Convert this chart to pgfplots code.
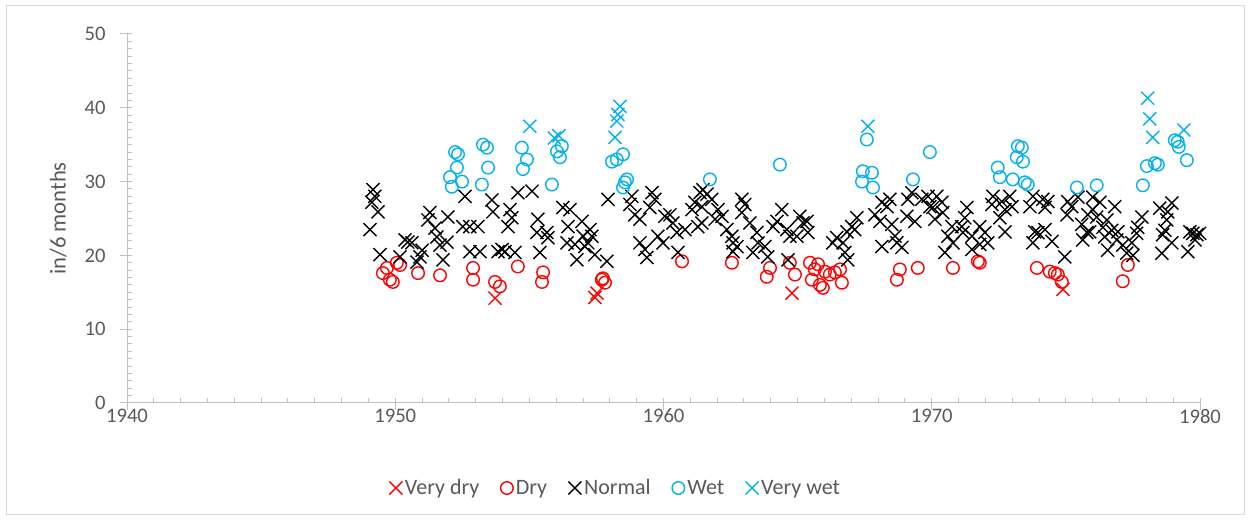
\documentclass[border=0pt]{standalone}
\usepackage{fontspec}
\setmainfont{Carlito}
\usepackage{pgfplots}
\pgfplotsset{compat=1.18}
\definecolor{axgray}{HTML}{BFBFBF}
\definecolor{framegray}{HTML}{D9D9D9}
\definecolor{txtgray}{HTML}{595959}
\definecolor{wetblue}{HTML}{00B0F0}
\definecolor{dryred}{HTML}{FF0000}
\begin{document}
\begin{tikzpicture}[x=0.75pt,y=0.75pt]
\useasboundingbox (0,0) rectangle (1250,521);
\draw[framegray, line width=0.75pt] (6,6) rectangle (1244,515);
\begin{axis}[
  at={(95.25pt,88.5pt)}, anchor=south west,
  width=804.75pt, height=276.75pt, scale only axis,
  xmin=1940, xmax=1980, ymin=0, ymax=50,
  xtick={1940,1950,...,1980}, ytick={0,10,...,50},
  minor x tick num=9, minor y tick num=9,
  axis lines=left, axis line style={axgray, -, line width=0.75pt},
  tick style={axgray, line width=0.75pt},
  tick align=inside,
  major tick length=3.75pt, minor tick length=3.75pt,
  extra x ticks={1940,1950,...,1980}, extra x tick labels={},
  extra x tick style={tick align=outside, major tick length=5.25pt},
  extra y ticks={0,10,...,50}, extra y tick labels={},
  extra y tick style={tick align=outside, major tick length=5.25pt},
  /pgf/number format/1000 sep={},
  /pgf/number format/assume math mode=true,
  tick label style={font=\fontsize{15.5}{18}\selectfont, text=txtgray},
  yticklabel style={xshift=-12.5pt},
  xticklabel style={yshift=-1pt},
  ylabel={in/6 months},
  ylabel style={font=\fontsize{17}{20}\selectfont, text=txtgray, at={(axis description cs:-0.064,0.5)}, anchor=center, rotate=0},
  legend style={at={(axis description cs:0.4557,-0.2304)}, anchor=center, draw=none, fill=none,
    font=\fontsize{16.5}{19}\selectfont, text=txtgray,
    /tikz/every even column/.append style={column sep=14pt}},
  legend columns=5,
  legend image code/.code={\draw[mark repeat=2,mark phase=2,#1] plot coordinates {(0pt,0pt)(5pt,0pt)(10pt,0pt)};},
]
% Very dry
\addplot[only marks, mark=x, mark size=6.9pt, dryred, line width=1.05pt] coordinates {
(1953.72,14.2) (1957.44,14.3) (1957.52,14.9) (1964.79,14.9) (1974.89,15.4)
};
\addlegendentry{Very dry}
% Dry
\addplot[only marks, mark=o, mark size=4.7pt, dryred, line width=1.05pt] coordinates {
(1949.54,17.6) (1949.69,18.3) (1949.80,16.7) (1949.91,16.4) (1950.06,19.0) (1950.18,18.7)
(1950.85,17.6) (1951.67,17.3) (1952.90,18.3) (1952.90,16.7) (1953.72,16.4) (1953.90,15.8)
(1954.57,18.5) (1955.51,17.7) (1955.47,16.4) (1957.70,16.7) (1957.74,16.9) (1957.82,16.3)
(1960.69,19.2) (1962.55,19.0) (1963.85,17.1) (1963.97,18.3) (1964.71,19.0) (1964.90,17.4)
(1965.46,19.0) (1965.53,16.7) (1965.64,18.1) (1965.76,18.8) (1965.83,16.0) (1965.94,15.6)
(1966.02,17.8) (1966.20,17.4) (1966.39,17.7) (1966.58,18.1) (1966.65,16.3) (1968.70,16.7)
(1968.81,18.1) (1969.48,18.3) (1970.79,18.3) (1971.72,19.2) (1971.79,19.0) (1973.92,18.3)
(1974.40,17.8) (1974.59,17.6) (1974.70,17.4) (1974.85,16.4) (1977.12,16.5) (1977.31,18.7)
};
\addlegendentry{Dry}
% Normal
\addplot[only marks, mark=x, mark size=6.9pt, black, line width=1.05pt] coordinates {
(1949.17,28.9) (1949.24,28.0) (1949.13,27.2) (1949.36,25.9) (1949.06,23.5) (1949.43,20.1)
(1950.36,22.1) (1950.47,21.8) (1950.62,21.7) (1950.18,19.8) (1951.29,25.8) (1951.22,24.8)
(1951.96,25.2) (1951.48,23.7) (1951.55,22.5) (1951.67,21.4) (1951.93,21.8) (1951.78,19.4)
(1950.92,19.8) (1951.00,20.7) (1950.81,19.1) (1952.60,28.0) (1953.60,27.5) (1953.64,25.9)
(1952.52,23.9) (1952.78,23.9) (1953.08,23.9) (1952.78,20.5) (1953.16,20.5) (1953.83,20.5)
(1954.28,26.2) (1954.35,25.1) (1954.20,23.9) (1954.57,28.5) (1955.10,28.7) (1953.98,20.8)
(1954.09,20.5) (1954.46,20.4) (1955.32,24.9) (1955.28,23.1) (1955.65,23.1) (1955.69,22.4)
(1955.39,20.4) (1956.25,26.5) (1956.51,26.2) (1956.44,23.9) (1956.96,24.6) (1956.40,21.7)
(1956.70,21.5) (1957.00,22.6) (1956.77,19.4) (1957.07,21.2)
(1957.93,27.6) (1958.82,28.0) (1958.75,26.9) (1958.93,25.5) (1959.12,24.9) (1959.57,28.5)
(1959.68,27.6) (1959.49,26.5) (1959.12,21.7) (1959.31,20.8) (1959.38,19.7) (1959.79,22.6)
(1960.05,25.3) (1960.24,25.5) (1959.98,21.7) (1960.35,24.4) (1960.50,23.1) (1960.54,20.4)
(1960.80,23.5) (1961.06,26.2) (1961.17,27.2) (1961.36,28.5) (1961.28,23.9) (1957.26,23.5)
(1957.33,22.6) (1957.18,21.7) (1957.44,20.1) (1957.89,19.2)
(1961.47,28.9) (1961.62,28.3) (1961.80,27.6) (1961.43,26.6) (1962.03,26.2) (1962.18,25.3)
(1961.92,24.9) (1961.43,24.4) (1962.92,27.6) (1963.03,26.9) (1962.92,25.8) (1962.36,23.5)
(1962.55,22.6) (1962.59,21.7) (1962.74,21.2) (1962.59,20.5) (1963.22,24.4) (1963.48,23.1)
(1963.52,21.7) (1963.33,20.4) (1963.78,21.2) (1963.89,19.8) (1964.41,26.2) (1964.23,24.6)
(1964.08,23.9) (1964.60,23.5) (1964.71,22.6) (1965.08,25.3) (1965.20,24.4) (1965.35,24.6)
(1965.38,23.1) (1964.97,22.6) (1964.64,19.4)
(1968.14,27.2) (1968.33,26.6) (1968.44,27.6) (1967.88,25.5) (1968.07,24.6) (1968.51,24.2)
(1967.21,25.1) (1967.02,23.9) (1966.84,23.2) (1967.13,23.5) (1966.46,22.4) (1966.31,21.7)
(1966.69,21.7) (1966.76,20.4) (1966.87,19.4) (1968.14,21.2) (1968.63,22.6) (1968.70,21.7)
(1968.89,21.1) (1969.11,27.6) (1969.26,28.5) (1969.07,25.3) (1969.37,24.6) (1969.63,27.6)
(1969.86,28.0) (1969.93,26.6)
(1970.19,28.0) (1970.38,27.2) (1970.04,26.5) (1970.41,25.8) (1970.12,24.9) (1970.75,23.9)
(1970.60,22.6) (1970.79,21.7) (1970.49,20.4) (1971.12,23.9) (1971.31,26.5) (1971.23,25.1)
(1971.16,23.1) (1971.50,22.6) (1971.79,23.9) (1971.98,23.1) (1972.09,21.7) (1971.79,21.5)
(1971.50,20.8) (1972.28,28.0) (1972.24,26.9) (1972.61,27.3) (1972.91,28.0) (1972.73,26.2)
(1972.99,26.6) (1972.54,25.1) (1972.73,23.2) (1973.77,28.0) (1973.66,26.6) (1973.84,23.2)
(1973.77,21.7) (1973.96,23.1) (1974.14,27.6) (1974.22,26.5) (1974.22,23.5)
(1974.33,27.3) (1974.48,21.9) (1974.96,19.8) (1975.07,27.3) (1975.22,26.6) (1975.04,25.5)
(1975.45,27.9) (1975.59,24.2) (1975.78,23.1) (1975.63,22.1) (1975.82,25.5)
(1976.00,27.9) (1976.27,27.2) (1976.00,26.2) (1976.15,25.2) (1976.82,26.6) (1976.53,24.8)
(1976.38,23.8) (1975.89,23.2) (1976.71,23.4) (1976.94,23.2) (1976.45,22.5) (1976.90,22.1)
(1976.56,20.7) (1977.12,21.4) (1977.27,20.3) (1977.50,20.0) (1977.83,25.2) (1977.68,23.8)
(1977.64,23.0) (1977.46,21.7) (1978.50,26.4) (1978.95,27.1) (1978.80,25.9) (1978.76,24.8)
(1978.69,23.4) (1978.61,22.8) (1978.95,21.7) (1978.58,20.3) (1979.62,23.2) (1979.73,23.0)
(1979.88,22.8) (1979.99,23.0) (1979.81,22.1) (1979.55,20.5)
};
\addlegendentry{Normal}
% Wet
\addplot[only marks, mark=o, mark size=4.7pt, wetblue, line width=1.05pt] coordinates {
(1952.23,34.0) (1952.34,33.7) (1952.30,31.9) (1952.04,30.6) (1952.49,30.0) (1952.11,29.3)
(1953.27,35.0) (1953.42,34.6) (1953.46,31.9) (1953.23,29.6) (1954.72,34.6) (1954.91,33.0)
(1954.76,31.7) (1955.84,29.6) (1956.03,34.1) (1956.21,34.8) (1956.14,33.3)
(1958.08,32.7) (1958.26,33.0) (1958.49,33.7) (1958.56,29.9) (1958.49,29.2) (1958.64,30.3)
(1961.73,30.3) (1964.34,32.3)
(1967.58,35.7) (1967.43,31.4) (1967.77,31.2) (1967.40,30.0) (1967.81,29.2) (1969.30,30.3)
(1969.93,34.0)
(1973.21,34.8) (1973.36,34.6) (1973.17,33.3) (1973.40,32.7) (1972.46,31.9) (1972.54,30.6)
(1973.02,30.3) (1973.47,29.9) (1973.58,29.6)
(1975.41,29.2) (1976.15,29.5) (1977.87,29.5) (1978.02,32.1) (1978.32,32.5) (1978.43,32.3)
(1979.06,35.6) (1979.17,35.4) (1979.21,34.7) (1979.51,32.9)
};
\addlegendentry{Wet}
% Very wet
\addplot[only marks, mark=x, mark size=6.9pt, wetblue, line width=1.05pt] coordinates {
(1955.02,37.5) (1955.93,35.9) (1956.10,36.2)
(1958.38,40.2) (1958.30,39.1) (1958.26,38.2) (1958.19,36.0)
(1967.62,37.5)
(1978.05,41.3) (1978.13,38.5) (1978.24,36.0) (1979.40,37.0)
};
\addlegendentry{Very wet}
\end{axis}
\end{tikzpicture}
\end{document}
